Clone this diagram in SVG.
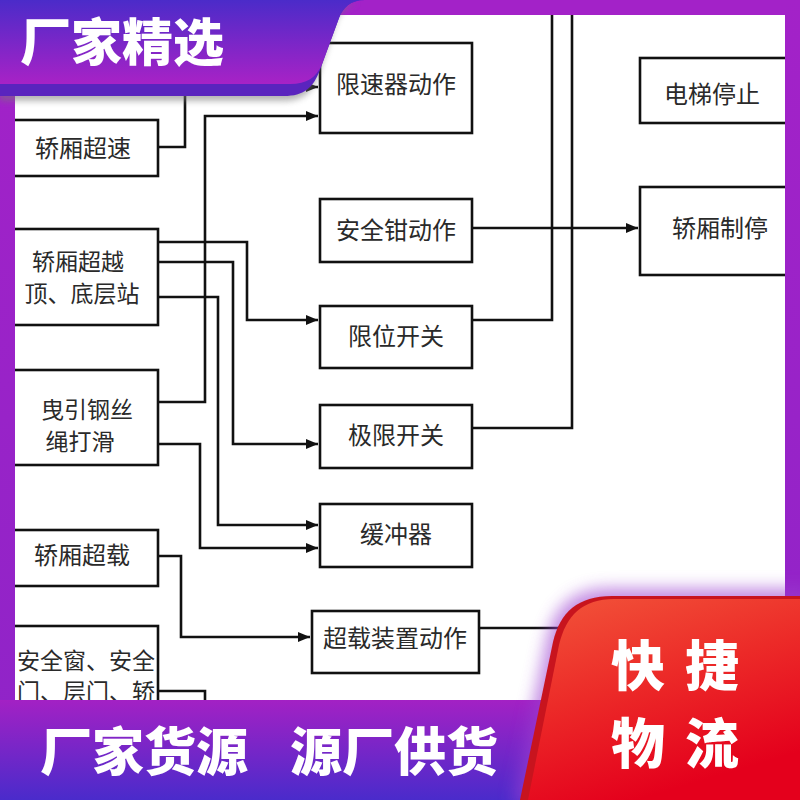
<svg xmlns="http://www.w3.org/2000/svg" width="800" height="800" viewBox="0 0 800 800">
<defs>
<style>
.box{fill:#fff;stroke:#111;stroke-width:2.6}
.lbl{font-family:"Noto Sans CJK SC","Noto Sans",sans-serif;font-size:24px;fill:#2a2a2a;text-anchor:middle}
.lbl2{font-size:23px}
.wire{fill:none;stroke:#111;stroke-width:2.6}
.ban{font-family:"Noto Sans CJK SC","Noto Sans",sans-serif;font-weight:900;fill:#fff}
</style>
<marker id="ah" viewBox="0 0 12 10" refX="12" refY="5" markerWidth="12" markerHeight="10" markerUnits="userSpaceOnUse" orient="auto">
<path d="M0,0 L12,5 L0,10 Z" fill="#111"/>
</marker>
<linearGradient id="gTop" x1="0" y1="0" x2="0" y2="1">
<stop offset="0" stop-color="#4B2BC9"/>
<stop offset="1" stop-color="#A822C6"/>
</linearGradient>
<linearGradient id="gBot" x1="0" y1="0" x2="0" y2="1">
<stop offset="0" stop-color="#A321C4"/>
<stop offset="1" stop-color="#4A2BCB"/>
</linearGradient>
<linearGradient id="gSide" x1="0" y1="0" x2="0" y2="1">
<stop offset="0" stop-color="#A322C8"/>
<stop offset="1" stop-color="#8E24C8"/>
</linearGradient>
<linearGradient id="gRed" x1="0" y1="0" x2="0.4" y2="1">
<stop offset="0" stop-color="#F2553A"/>
<stop offset="0.5" stop-color="#EC2A28"/>
<stop offset="1" stop-color="#E4001C"/>
</linearGradient>
<filter id="blur8" x="-30%" y="-30%" width="160%" height="160%"><feGaussianBlur stdDeviation="8"/></filter>
<filter id="blur3" x="-10%" y="-30%" width="120%" height="160%"><feGaussianBlur stdDeviation="3"/></filter>
</defs>
<rect width="800" height="800" fill="#fff"/>

<g id="connectors">
<path class="wire" d="M158,147 H185 V87 H318" marker-end="url(#ah)"/>
<path class="wire" d="M158,402 H205 V116 H318" marker-end="url(#ah)"/>
<path class="wire" d="M158,242 H247 V320 H318" marker-end="url(#ah)"/>
<path class="wire" d="M158,262 H233 V444 H318" marker-end="url(#ah)"/>
<path class="wire" d="M158,297 H218 V525 H318" marker-end="url(#ah)"/>
<path class="wire" d="M158,444 H200 V548 H318" marker-end="url(#ah)"/>
<path class="wire" d="M158,556 H181 V637 H310" marker-end="url(#ah)"/>
<path class="wire" d="M158,691 H205 V720"/>
<path class="wire" d="M472,228 H638" marker-end="url(#ah)"/>
<path class="wire" d="M472,320 H552 V0"/>
<path class="wire" d="M472,428 H572 V0"/>
<path class="wire" d="M479,628 H580"/>
</g>

<g id="n-overspeed"><rect class="box" x="5" y="120" width="153" height="56"/><text class="lbl" x="83" y="157">轿厢超速</text></g>
<g id="n-overtravel"><rect class="box" x="5" y="229" width="153" height="96"/><text class="lbl lbl2" x="78" y="270">轿厢超越</text><text class="lbl lbl2" x="82" y="302">顶、底层站</text></g>
<g id="n-slip"><rect class="box" x="5" y="370" width="153" height="95"/><text class="lbl lbl2" x="87" y="418">曳引钢丝</text><text class="lbl lbl2" x="80" y="450">绳打滑</text></g>
<g id="n-overload"><rect class="box" x="5" y="530" width="153" height="56"/><text class="lbl" x="82" y="564">轿厢超载</text></g>
<g id="n-doors"><rect class="box" x="5" y="626" width="153" height="110"/><text class="lbl lbl2" x="86" y="669">安全窗、安全</text><text class="lbl lbl2" x="86" y="700">门、层门、轿</text></g>

<g id="n-governor"><rect class="box" x="320" y="43" width="152" height="90"/><text class="lbl" x="396" y="93">限速器动作</text></g>
<g id="n-safety"><rect class="box" x="320" y="199" width="152" height="63"/><text class="lbl" x="396" y="239">安全钳动作</text></g>
<g id="n-limit"><rect class="box" x="320" y="306" width="152" height="62"/><text class="lbl" x="396" y="345">限位开关</text></g>
<g id="n-final"><rect class="box" x="320" y="405" width="152" height="63"/><text class="lbl" x="396" y="444">极限开关</text></g>
<g id="n-buffer"><rect class="box" x="320" y="504" width="152" height="63"/><text class="lbl" x="396" y="543">缓冲器</text></g>
<g id="n-overload-dev"><rect class="box" x="312" y="611" width="167" height="62"/><text class="lbl" x="395" y="647">超载装置动作</text></g>
<g id="n-stop"><rect class="box" x="640" y="58" width="170" height="65"/><text class="lbl" x="712" y="103">电梯停止</text></g>
<g id="n-brake"><rect class="box" x="640" y="187" width="170" height="88"/><text class="lbl" x="720" y="237">轿厢制停</text></g>

<g id="frame">
<rect x="0" y="0" width="800" height="15" fill="#A322C8"/>
<rect x="0" y="0" width="15" height="800" fill="url(#gSide)"/>
<rect x="785" y="0" width="15" height="800" fill="url(#gSide)"/>
</g>

<g id="top-banner">
<path d="M0,4 H360 C346,4 340,12 336,22 L318,76 C311,94 302,101 282,101 H0 Z" fill="#777" opacity="0.55" filter="url(#blur3)"/>
<path d="M0,0 H365 C350,0 343,8 339,18 L320,70 C313,88 304,96 284,96 H0 Z" fill="#5A24BE"/>
<path d="M0,0 H365 C350,0 343,8 339,18 L322,64 C316,78 307,84 290,84 H0 Z" fill="url(#gTop)"/>
<text class="ban" x="20" y="61" font-size="51">厂家精选</text>
</g>

<g id="bottom-banner">
<rect x="0" y="700" width="800" height="100" fill="url(#gBot)"/>
<text class="ban" x="40" y="771" font-size="52">厂家货源</text>
<text class="ban" x="290" y="771" font-size="52">源厂供货</text>
</g>

<g id="red-tag">
<path d="M512,805 L546,642 C553,608 572,588 610,588 H810 V805 Z" fill="#9B3FD0" opacity="0.6" filter="url(#blur8)"/>
<path d="M520,800 L553,642 C560,612 578,596 612,596 H800 V800 Z" fill="#C8141E"/>
<path d="M528,800 L559,645 C566,615 583,599 614,599 H800 V800 Z" fill="url(#gRed)"/>
<text class="ban" x="685" y="686" font-size="54" text-anchor="middle" letter-spacing="20">快捷</text>
<text class="ban" x="685" y="764" font-size="54" text-anchor="middle" letter-spacing="20">物流</text>
</g>
</svg>
